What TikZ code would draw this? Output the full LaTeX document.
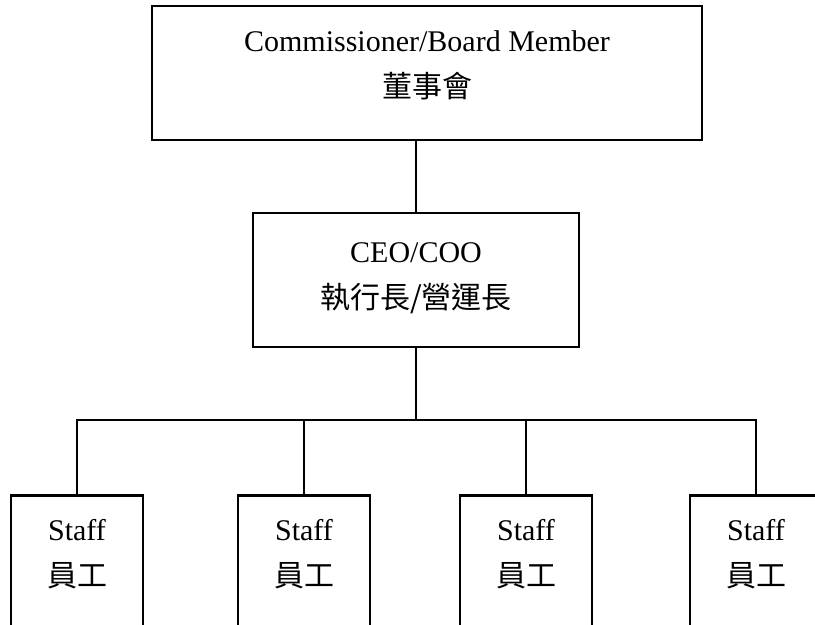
\documentclass[tikz,border=0pt]{standalone}
\usepackage{fontspec}
\setmainfont{Liberation Serif}
\newfontfamily\cjk{Noto Sans CJK TC}
\usetikzlibrary{positioning}

\tikzset{
  orgbox/.style={draw, line width=1.9pt, inner sep=0pt},
  orgtext/.style={align=center, inner sep=0pt, font=\fontsize{22.5}{34.5}\selectfont},
  conn/.style={line width=1.9pt},
}

\begin{document}
\begin{tikzpicture}[x=0.75pt, y=-0.75pt]
\useasboundingbox (0,0) rectangle (815,625);

% board
\node[orgbox, minimum width=412.5pt, minimum height=100.5pt] (board) at (427,73) {};
\node[orgtext, below=19.5pt of board.north] (boardtxt) {Commissioner/Board Member\\{\cjk 董事會}};

% ceo
\node[orgbox, minimum width=244.5pt, minimum height=100.5pt] (ceo) at (416,280) {};
\node[orgtext, below=23.25pt of ceo.north] (ceotxt) {CEO/COO\\{\cjk 執行長/營運長}};

% staff
\foreach \x [count=\i] in {77,304,526,756} {
  \node[orgbox, minimum width=99pt, minimum height=120pt, anchor=north] (staff\i) at (\x,494) {};
  \node[orgtext, below=19pt of staff\i.north] (stafftxt\i) {Staff\\{\cjk 員工}};
}

\coordinate (bus) at (416,420);

\draw[conn] (board.south -| ceo.north) -- (ceo.north);
\draw[conn] (ceo.south) -- (bus);
\draw[conn] (staff1.north) -- (staff1.north |- bus) -- (staff4.north |- bus) -- (staff4.north);
\draw[conn] (staff2.north |- bus) -- (staff2.north);
\draw[conn] (staff3.north |- bus) -- (staff3.north);

\end{tikzpicture}
\end{document}
